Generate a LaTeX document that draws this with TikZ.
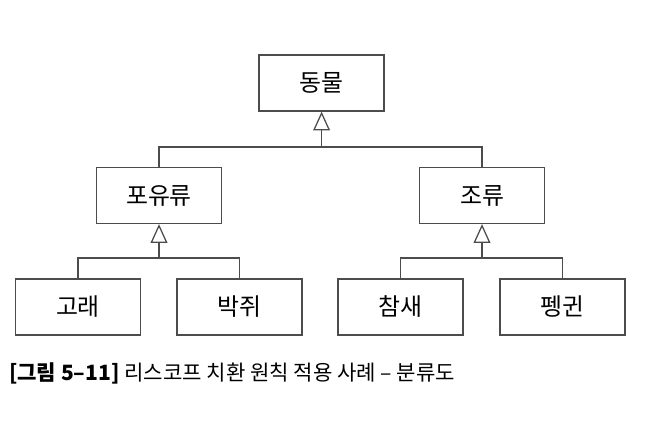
\documentclass[tikz,border=0pt]{standalone}
\usepackage{fontspec}
\setmainfont{Noto Sans CJK KR}
\usepackage{tikz}
\usetikzlibrary{arrows.meta,calc,positioning}

\begin{document}
\begin{tikzpicture}[
  cls/.style={draw=black!70,line width=0.9pt,minimum width=3.125cm,minimum height=1.4cm,inner sep=0pt,font=\fontsize{17}{20}\selectfont},
  link/.style={draw=black!70,line width=0.9pt},
  inherit/.style={link,-{Triangle[open,width=0.42cm,length=0.47cm]}}
]
\useasboundingbox (0,0) rectangle (16.45,10.5);

% Root class
\node[cls] (animal) at (8.04,8.425) {동물};

% Subclasses
\node[cls] (mammal) at (3.975,5.6125) {포유류};
\node[cls] (bird) at (12.05,5.6125) {조류};

% Leaf classes
\node[cls] (whale) at (1.95,2.825) {고래};
\node[cls] (bat) at (5.9875,2.825) {박쥐};
\node[cls] (sparrow) at (10.0125,2.825) {참새};
\node[cls] (penguin) at (14.0625,2.825) {펭귄};

% Inheritance buses
\coordinate (topbus) at (animal.south |- 0,6.825);
\coordinate (mammalbus) at (mammal.south |- 0,4.05);
\coordinate (birdbus) at (bird.south |- 0,4.05);

\draw[link] (mammal.north) |- (topbus) -| (bird.north);
\draw[inherit] (topbus) -- (animal.south);

\draw[link] (whale.north) |- (mammalbus) -| (bat.north);
\draw[inherit] (mammalbus) -- (mammal.south);

\draw[link] (sparrow.north) |- (birdbus) -| (penguin.north);
\draw[inherit] (birdbus) -- (bird.south);

% Caption
\node[anchor=west,inner sep=0pt,font=\fontsize{15}{18}\selectfont] (caption) at (0.22,1.175)
  {{\bfseries [그림 5–11]} 리스코프 치환 원칙 적용 사례 – 분류도};
\end{tikzpicture}
\end{document}
